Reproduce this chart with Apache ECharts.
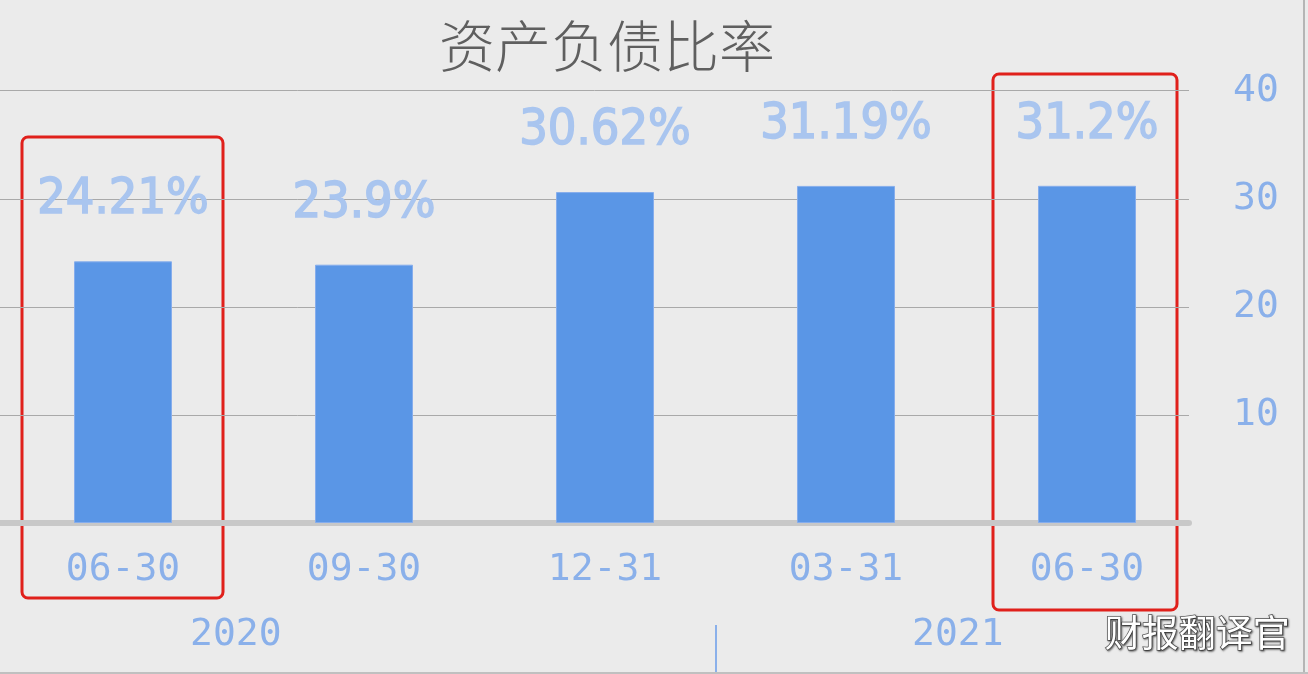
<!DOCTYPE html>
<html><head><meta charset="utf-8">
<script src="https://cdn.jsdelivr.net/npm/echarts@6/dist/echarts.min.js"></script>
<style>html,body{margin:0;padding:0;background:#ebebeb;}#c{width:1308px;height:674px;}</style>
</head><body><div id="c"></div>
<script>
const categories = ['06-30', '09-30', '12-31', '03-31', '06-30'];
const values = [24.21, 23.9, 30.62, 31.19, 31.2];
const valueLabels = ['24.21%', '23.9%', '30.62%', '31.19%', '31.2%'];
const yTicks = [0, 10, 20, 30, 40];
const years = ['2020', '2021'];
const titleText = '资产负债比率';
const watermark = '财报翻译官';

const chart = echarts.init(document.getElementById('c'));
const blue = '#8ab0ea';
const mono = 'DejaVu Sans Mono';
const option = {
  backgroundColor: '#ebebeb',
  animation: false,
  title: {
    text: titleText, left: 434, top: 13,
    textStyle: { fontSize: 56, fontWeight: 300, color: '#5f5f5f', fontFamily: 'Noto Sans CJK SC' }
  },
  grid: [
    { left: 2.5, right: 100.5, top: 90.7, bottom: 151 },
    { left: 0, right: 119, top: 90.7, bottom: 151 }
  ],
  xAxis: [
    { type: 'category', gridIndex: 0, data: categories,
      axisLine: { show: false }, axisTick: { show: false },
      axisLabel: { fontSize: 38, margin: 28, color: blue, fontFamily: mono } },
    { type: 'category', gridIndex: 1, data: categories,
      axisLine: { show: true, lineStyle: { color: '#c8c8c8', width: 6 } },
      axisTick: { show: false }, axisLabel: { show: false } }
  ],
  yAxis: [
    { type: 'value', gridIndex: 0, min: yTicks[0], max: yTicks[yTicks.length - 1], interval: 10,
      show: false },
    { type: 'value', gridIndex: 1, position: 'right', min: yTicks[0], max: yTicks[yTicks.length - 1], interval: 10,
      axisLine: { show: false }, axisTick: { show: false },
      axisLabel: { margin: 44, fontSize: 38, color: blue, fontFamily: mono,
        formatter: v => (v === 0 ? '' : String(v)) },
      splitLine: { lineStyle: { color: '#a9a9a9', width: 1 } } }
  ],
  series: [{
    type: 'bar', xAxisIndex: 0, yAxisIndex: 0, data: values, barWidth: 98,
    itemStyle: { color: '#5a96e6', borderColor: '#86adec', borderWidth: 1 },
    label: { show: true, position: 'top', distance: 36, fontSize: 50, fontWeight: 'normal',
      color: '#a9c5ef', fontFamily: 'DejaVu Sans Condensed',
      textBorderColor: '#a9c5ef', textBorderWidth: 1.5,
      formatter: p => valueLabels[p.dataIndex] }
  }],
  graphic: [
    { type: 'text', left: 236 - 46, top: 616, style: { text: years[0], fontSize: 38, fill: blue, fontFamily: mono } },
    { type: 'text', left: 958 - 46, top: 616, style: { text: years[1], fontSize: 38, fill: blue, fontFamily: mono } },
    { type: 'line', shape: { x1: 716, y1: 625, x2: 716, y2: 674 }, style: { stroke: blue, lineWidth: 2 } },
    { type: 'rect', shape: { x: 22, y: 137, width: 201, height: 461, r: 6 }, style: { fill: 'none', stroke: '#e0201b', lineWidth: 3 } },
    { type: 'rect', shape: { x: 993, y: 74, width: 184, height: 536, r: 6 }, style: { fill: 'none', stroke: '#e0201b', lineWidth: 3 } },
    { type: 'line', shape: { x1: 1304, y1: 0, x2: 1304, y2: 674 }, style: { stroke: '#b5b5b5', lineWidth: 2 } },
    { type: 'line', shape: { x1: 0, y1: 673, x2: 1308, y2: 673 }, style: { stroke: '#c0c0c0', lineWidth: 2 } },
    { type: 'text', left: 1104, top: 614, style: { text: watermark, fontSize: 37, fill: '#ffffff',
      fontFamily: 'Noto Sans CJK SC', stroke: '#555', lineWidth: 1.5,
      textShadowColor: 'rgba(0,0,0,0.5)', textShadowBlur: 2, textShadowOffsetX: 1, textShadowOffsetY: 1 } }
  ]
};
chart.setOption(option);
</script></body></html>
